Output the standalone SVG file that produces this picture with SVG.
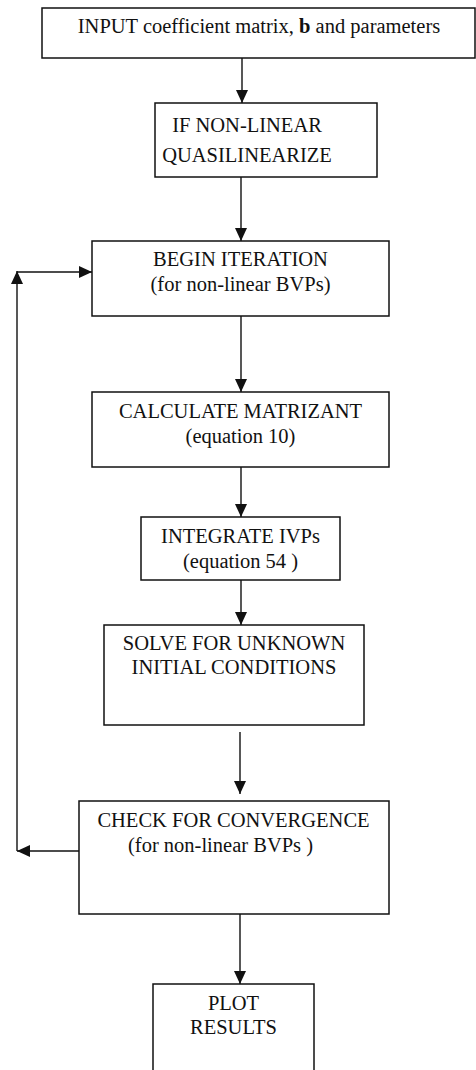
<svg xmlns="http://www.w3.org/2000/svg" width="476" height="1070" viewBox="0 0 476 1070">
<style>
.box{fill:#fff;stroke:#111;stroke-width:1.5}
.t{font-family:'Liberation Serif',serif;font-size:20.5px;fill:#111;text-anchor:middle}
.c{fill:none;stroke:#111;stroke-width:1.4}
</style>
<defs>
<marker id="ah" viewBox="0 0 13 12" refX="13" refY="6" markerWidth="13" markerHeight="12" orient="auto" markerUnits="userSpaceOnUse">
<path d="M0,0 L13,6 L0,12 z" fill="#111"/>
</marker>
</defs>
<rect width="476" height="1070" fill="#fff"/>
<g id="connectors">
<path class="c" d="M242,58 V103" marker-end="url(#ah)"/>
<path class="c" d="M241,177 V241" marker-end="url(#ah)"/>
<path class="c" d="M241,316 V392" marker-end="url(#ah)"/>
<path class="c" d="M241,467 V517" marker-end="url(#ah)"/>
<path class="c" d="M241,580 V625" marker-end="url(#ah)"/>
<path class="c" d="M240,732 V794" marker-end="url(#ah)"/>
<path class="c" d="M240,908 V984" marker-end="url(#ah)"/>
<path class="c" d="M79,851 H17" marker-end="url(#ah)"/>
<path class="c" d="M17,851 V271" marker-end="url(#ah)"/>
<path class="c" d="M17,272 H92" marker-end="url(#ah)"/>
</g>
<g id="n1">
<rect class="box" x="42" y="8" width="433" height="50"/>
<text class="t" x="259" y="33" font-family="Liberation Serif, serif">INPUT coefficient matrix, <tspan font-weight="bold">b</tspan> and parameters</text>
</g>
<g id="n2">
<rect class="box" x="155" y="103" width="222" height="74"/>
<text class="t" x="247" y="132" font-family="Liberation Serif, serif">IF NON-LINEAR</text>
<text class="t" x="247" y="162" font-family="Liberation Serif, serif">QUASILINEARIZE</text>
</g>
<g id="n3">
<rect class="box" x="92" y="241" width="297" height="75"/>
<text class="t" x="240.5" y="266" font-family="Liberation Serif, serif">BEGIN ITERATION</text>
<text class="t" x="240.5" y="291" font-family="Liberation Serif, serif">(for non-linear BVPs)</text>
</g>
<g id="n4">
<rect class="box" x="92" y="392" width="297" height="75"/>
<text class="t" x="240.5" y="418" font-family="Liberation Serif, serif">CALCULATE MATRIZANT</text>
<text class="t" x="240.5" y="443" font-family="Liberation Serif, serif">(equation 10)</text>
</g>
<g id="n5">
<rect class="box" x="141" y="517" width="199" height="63"/>
<text class="t" x="240.5" y="543" font-family="Liberation Serif, serif">INTEGRATE IVPs</text>
<text class="t" x="240.5" y="568" font-family="Liberation Serif, serif">(equation 54 )</text>
</g>
<g id="n6">
<rect class="box" x="104" y="625" width="260" height="100"/>
<text class="t" x="234" y="650" font-family="Liberation Serif, serif">SOLVE FOR UNKNOWN</text>
<text class="t" x="234" y="674" font-family="Liberation Serif, serif">INITIAL CONDITIONS</text>
</g>
<g id="n7">
<rect class="box" x="79" y="801" width="310" height="113"/>
<text class="t" x="233.5" y="827" font-family="Liberation Serif, serif">CHECK FOR CONVERGENCE</text>
<text class="t" x="220.5" y="852" font-family="Liberation Serif, serif">(for non-linear BVPs )</text>
</g>
<g id="n8">
<rect class="box" x="153" y="984" width="161" height="100"/>
<text class="t" x="233.5" y="1010" font-family="Liberation Serif, serif">PLOT</text>
<text class="t" x="233.5" y="1034" font-family="Liberation Serif, serif">RESULTS</text>
</g>
</svg>
